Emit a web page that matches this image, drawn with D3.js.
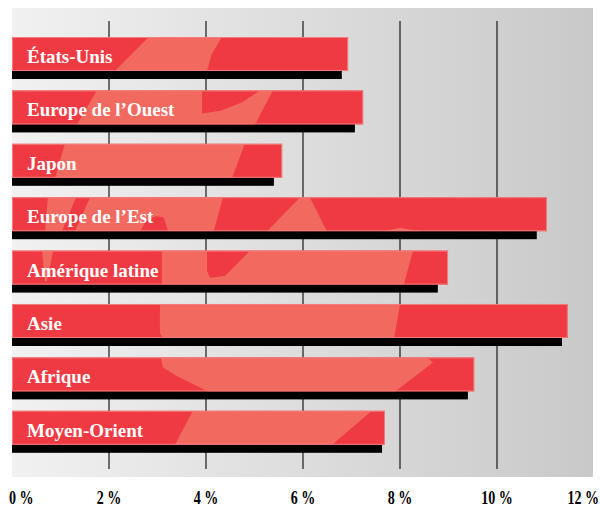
<!DOCTYPE html>
<html>
<head>
<meta charset="utf-8">
<script src="https://cdn.jsdelivr.net/npm/d3@7"></script>
<style>
  body { margin: 0; background: #fff; }
  svg { display: block; }
</style>
</head>
<body>
<script>
var width = 600,
    height = 507;

// regions and growth values (%)
var regions = ["États-Unis", "Europe de l\u2019Ouest", "Japon", "Europe de l\u2019Est",
               "Amérique latine", "Asie", "Afrique", "Moyen-Orient"];
var redValues = [6.93, 7.24, 5.57, 11.03, 8.99, 11.46, 9.53, 7.69];
var blackValues = [6.80, 7.07, 5.40, 10.82, 8.78, 11.34, 9.40, 7.63];
var tickValues = [0, 2, 4, 6, 8, 10, 12];

// pale map fragments behind the bars: [value %, fraction of bar height]
var mapShapes = [
  {row: 0, pts: [[2.82,0],[4.33,0],[4.12,0.5],[4.02,1],[2.12,1]]},
  {row: 1, pts: [[1.75,0],[3.92,0],[3.92,0.68],[4.3,0.6],[4.75,0.35],[5.11,0],[5.38,0],[5.01,1],[1.34,1]]},
  {row: 2, pts: [[1.09,0],[4.80,0],[4.54,1],[0.89,1]]},
  {row: 3, pts: [[0.74,0],[1.32,0],[1.03,1],[0.68,1]]},
  {row: 3, pts: [[1.61,0],[4.35,0],[4.16,1],[3.22,1],[3.13,0.6],[2.97,0.55],[2.76,0.7],[2.64,1],[1.30,1]]},
  {row: 3, pts: [[5.94,0],[6.14,0],[6.35,0.6],[6.49,1],[5.26,1]]},
  {row: 3, pts: [[7.65,1],[8.0,0.9],[8.41,1]]},
  {row: 4, pts: [[0.62,0],[0.85,0],[0.72,0.9],[0.68,0.9]]},
  {row: 4, pts: [[3.09,0],[4.02,0],[4.02,0.6],[4.08,0.8],[4.39,0.75],[4.91,0],[8.27,0],[8.08,1],[3.09,1]]},
  {row: 5, pts: [[3.05,0],[8.0,0],[7.88,1],[3.11,1],[3.05,0.85]]},
  {row: 6, pts: [[3.07,0],[8.56,0],[8.68,0.15],[7.90,1],[4.04,1],[3.40,0.55],[3.11,0.3]]},
  {row: 7, pts: [[3.73,0],[7.42,0],[6.60,1],[3.36,1]]}
];

var svg = d3.select("body").append("svg")
    .attr("width", width)
    .attr("height", height);

var x = d3.scaleLinear().domain([0, 12]).range([12, 594]);

var y = d3.scaleBand()
    .domain(regions)
    .range([37, 444.8])
    .paddingInner(0.363)
    .paddingOuter(0);

var defs = svg.append("defs");
var grad = defs.append("linearGradient").attr("id", "bg")
    .attr("x1", "0%").attr("x2", "100%").attr("y1", "0%").attr("y2", "0%");
grad.append("stop").attr("offset", "0%").attr("stop-color", "#f1f1f1");
grad.append("stop").attr("offset", "100%").attr("stop-color", "#c9c9c9");

// background panel
svg.append("rect")
    .attr("x", x(0))
    .attr("y", 8)
    .attr("width", x(12) - x(0) - 1)
    .attr("height", 469)
    .attr("fill", "url(#bg)");

// grid lines
svg.append("g").selectAll("line")
    .data(tickValues.slice(1, -1))
  .enter().append("line")
    .attr("x1", function(d) { return x(d); })
    .attr("x2", function(d) { return x(d); })
    .attr("y1", 21)
    .attr("y2", 469)
    .attr("stroke", "#1a1a1a")
    .attr("stroke-width", 1.2);

// black shadow bars
svg.append("g").selectAll("rect")
    .data(regions)
  .enter().append("rect")
    .attr("x", x(0))
    .attr("y", function(d) { return y(d) + 8; })
    .attr("width", function(d, i) { return x(blackValues[i]) - x(0); })
    .attr("height", y.bandwidth())
    .attr("fill", "#000");

// clip paths, one per bar
defs.selectAll("clipPath")
    .data(regions)
  .enter().append("clipPath")
    .attr("id", function(d, i) { return "clip" + i; })
  .append("rect")
    .attr("x", x(0))
    .attr("y", function(d) { return y(d); })
    .attr("width", function(d, i) { return x(redValues[i]) - x(0); })
    .attr("height", y.bandwidth());

// red bars
var bars = svg.append("g");
bars.selectAll("rect")
    .data(regions)
  .enter().append("rect")
    .attr("x", x(0))
    .attr("y", function(d) { return y(d); })
    .attr("width", function(d, i) { return x(redValues[i]) - x(0); })
    .attr("height", y.bandwidth())
    .attr("fill", "#ef3a43");

// map fragments
var line = d3.line().curve(d3.curveLinearClosed);
svg.append("g").selectAll("path")
    .data(mapShapes)
  .enter().append("path")
    .attr("clip-path", function(d) { return "url(#clip" + d.row + ")"; })
    .attr("fill", "#f26a5f")
    .attr("d", function(d) {
      var top = y(regions[d.row]), h = y.bandwidth();
      return line(d.pts.map(function(p) { return [x(p[0]), top + p[1] * h]; }));
    });

// bar outline
svg.append("g").selectAll("rect")
    .data(regions)
  .enter().append("rect")
    .attr("x", x(0) + 0.5)
    .attr("y", function(d) { return y(d) + 0.5; })
    .attr("width", function(d, i) { return x(redValues[i]) - x(0) - 1; })
    .attr("height", y.bandwidth() - 1)
    .attr("fill", "none")
    .attr("stroke", "#f37b7b")
    .attr("stroke-width", 1);

// labels inside bars
svg.append("g").selectAll("text")
    .data(regions)
  .enter().append("text")
    .attr("x", 27)
    .attr("y", function(d) { return y(d) + 26; })
    .attr("fill", "#fff")
    .attr("font-family", "'Liberation Serif', 'DejaVu Serif', serif")
    .attr("font-weight", "bold")
    .attr("font-size", 19)
    .text(function(d) { return d; });

// axis labels
var tickG = svg.append("g").selectAll("g")
    .data(tickValues)
  .enter().append("g")
    .attr("transform", function(d, i) {
      var px = x(d);
      if (i == 0) px = 9;
      if (i == tickValues.length - 1) px = 599;
      return "translate(" + px + ",504) scale(0.78,1)";
    });
tickG.append("text")
    .attr("text-anchor", function(d, i) {
      if (i == 0) return "start";
      if (i == tickValues.length - 1) return "end";
      return "middle";
    })
    .attr("fill", "#000")
    .attr("font-family", "'Liberation Serif', 'DejaVu Serif', serif")
    .attr("font-weight", "bold")
    .attr("font-size", 18)
    .text(function(d) { return d + " %"; });
</script>
</body>
</html>
